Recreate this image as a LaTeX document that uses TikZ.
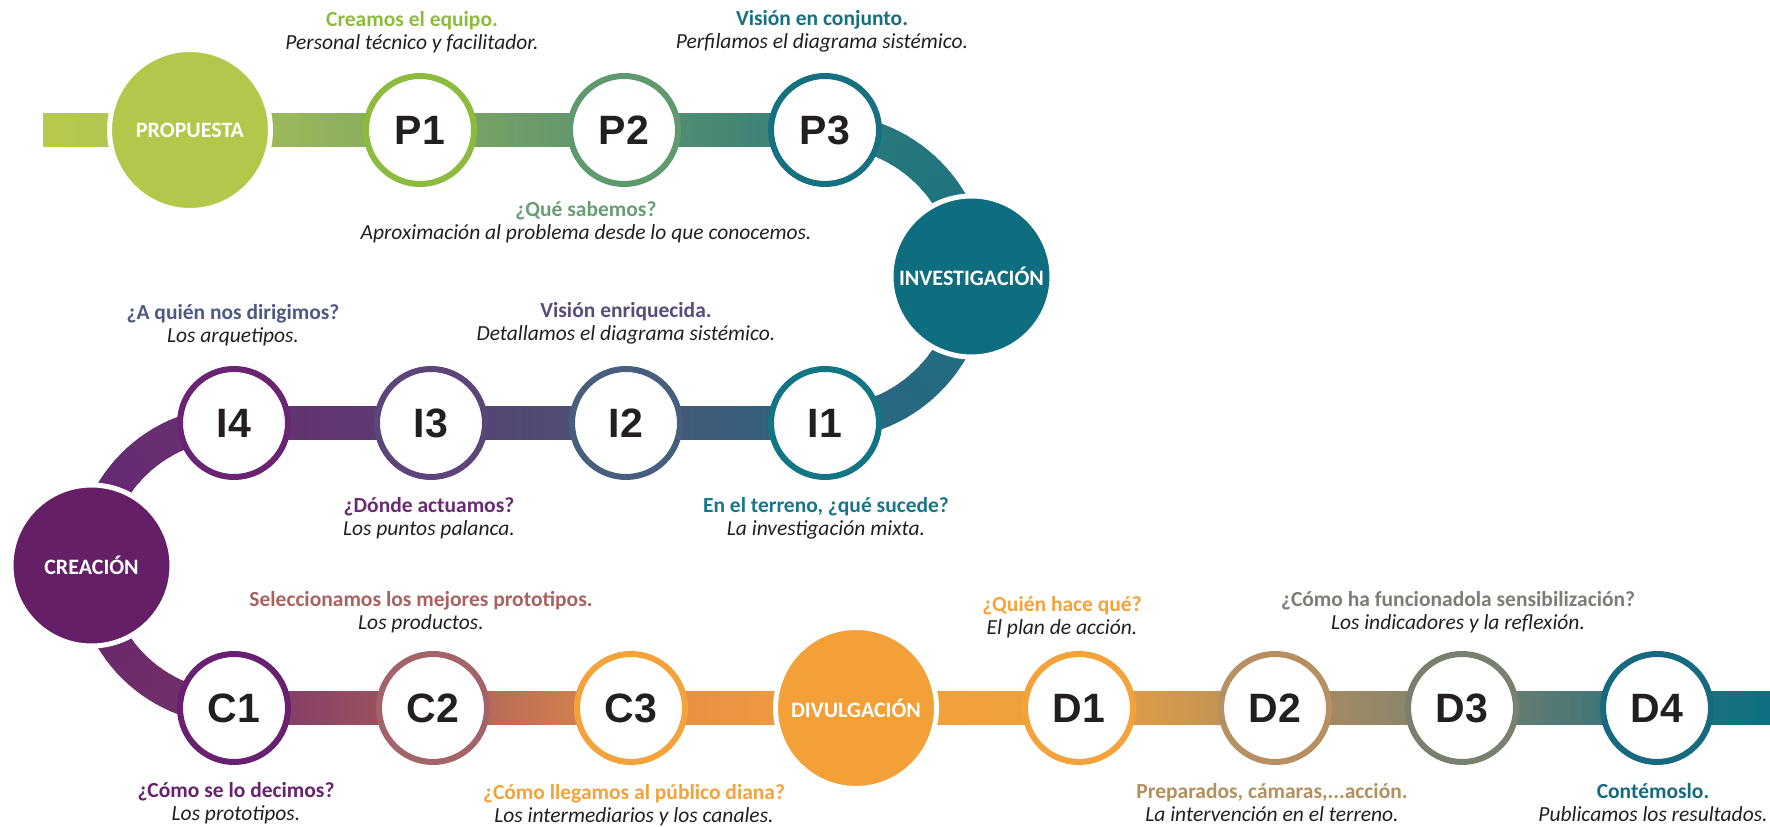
\documentclass[tikz,border=0pt]{standalone}
\usepackage{fontspec}
\setmainfont{Carlito}
\newfontfamily\stepfamily{Liberation Sans}
\usetikzlibrary{backgrounds}

% fills and rings
\definecolor{ink}{HTML}{231F20}
\definecolor{fPRO}{HTML}{B3C84A}
\definecolor{fINV}{HTML}{0E6E80}
\definecolor{fCRE}{HTML}{651F66}
\definecolor{fDIV}{HTML}{F4A038}
\definecolor{rP1}{HTML}{8DBB3E}
\definecolor{rP2}{HTML}{5F9A6F}
\definecolor{rP3}{HTML}{15707F}
\definecolor{rI1}{HTML}{117583}
\definecolor{rI2}{HTML}{475F7D}
\definecolor{rI3}{HTML}{5C4679}
\definecolor{rI4}{HTML}{6A2472}
\definecolor{rC1}{HTML}{6A2070}
\definecolor{rC2}{HTML}{A26468}
\definecolor{rC3}{HTML}{F4A33B}
\definecolor{rD1}{HTML}{F4A23A}
\definecolor{rD2}{HTML}{B69060}
\definecolor{rD3}{HTML}{78816F}
\definecolor{rD4}{HTML}{17697F}
% band stops
\definecolor{sbandL}{HTML}{B8C94C}
\definecolor{sPRO}{HTML}{ADC254}
\definecolor{sP1}{HTML}{7FA862}
\definecolor{sP2}{HTML}{5A9270}
\definecolor{sP3}{HTML}{367C79}
\definecolor{sI1}{HTML}{2E6680}
\definecolor{sI2}{HTML}{4A5577}
\definecolor{sI3}{HTML}{583F73}
\definecolor{sI4}{HTML}{66306F}
\definecolor{sC1}{HTML}{7A3468}
\definecolor{sC2}{HTML}{A65D5E}
\definecolor{sC3}{HTML}{E28C46}
\definecolor{sDIV}{HTML}{F4A23A}
\definecolor{sD1}{HTML}{EDA040}
\definecolor{sD2}{HTML}{B48E5C}
\definecolor{sD3}{HTML}{7A8270}
\definecolor{sD4}{HTML}{2A6F7B}
\definecolor{sbandR}{HTML}{0E7080}
\definecolor{aPa}{HTML}{2E7B7B}
\definecolor{aPb}{HTML}{177080}
\definecolor{aIa}{HTML}{1C6E80}
\definecolor{aIb}{HTML}{2C6680}
\definecolor{aCa}{HTML}{663372}
\definecolor{aCb}{HTML}{662470}
\definecolor{aDa}{HTML}{65246A}
\definecolor{aDb}{HTML}{74326A}
% headings
\definecolor{hP1}{HTML}{8DBB3E}
\definecolor{hP2}{HTML}{6A9D73}
\definecolor{hP3}{HTML}{17707F}
\definecolor{hI1}{HTML}{17768A}
\definecolor{hI2}{HTML}{574C7C}
\definecolor{hI3}{HTML}{6A2A72}
\definecolor{hI4}{HTML}{4C5B82}
\definecolor{hC1}{HTML}{6A2070}
\definecolor{hC2}{HTML}{A8625F}
\definecolor{hC3}{HTML}{F4A33B}
\definecolor{hD1}{HTML}{F4A23A}
\definecolor{hD2}{HTML}{B38F5E}
\definecolor{hD3}{HTML}{7A7E74}
\definecolor{hD4}{HTML}{17697F}

\begin{document}
\begin{tikzpicture}
[x=1pt,y=1pt,
  phaseNode/.style={circle,fill=#1,draw=white,line width=5pt,minimum size=161pt,
    inner sep=0pt,text=white,font=\fontsize{22}{24}\selectfont\bfseries},
  stepNode/.style={circle,fill=white,draw=#1,line width=6pt,minimum size=108pt,
    inner sep=0pt,text=ink,font=\stepfamily\fontsize{41}{41}\selectfont\bfseries},
  captionNode/.style={align=center,text=ink,inner sep=0pt,
    font=\fontsize{21.5}{23}\selectfont},
  bandLine/.style={line width=33pt}]
\useasboundingbox (0,0) rectangle (1770,827);

% phases and steps
\node[phaseNode=fPRO] (PRO) at (190,697) {PROPUESTA};
\node[stepNode=rP1] (P1) at (420,697) {P1};
\node[stepNode=rP2] (P2) at (624,697) {P2};
\node[stepNode=rP3] (P3) at (825,697) {P3};
\node[phaseNode=fINV] (INV) at (971.5,550.5) {INVESTIGACIÓN};
\node[stepNode=rI1] (I1) at (825,404) {I1};
\node[stepNode=rI2] (I2) at (626,404) {I2};
\node[stepNode=rI3] (I3) at (431,404) {I3};
\node[stepNode=rI4] (I4) at (234,404) {I4};
\node[phaseNode=fCRE] (CRE) at (91.5,261.5) {CREACIÓN};
\node[stepNode=rC1] (C1) at (234,119) {C1};
\node[stepNode=rC2] (C2) at (433,119) {C2};
\node[stepNode=rC3] (C3) at (631,119) {C3};
\node[phaseNode=fDIV] (DIV) at (856,119) {DIVULGACIÓN};
\node[stepNode=rD1] (D1) at (1079,119) {D1};
\node[stepNode=rD2] (D2) at (1275,119) {D2};
\node[stepNode=rD3] (D3) at (1462,119) {D3};
\node[stepNode=rD4] (D4) at (1657,119) {D4};
\coordinate (bandL) at (43,697);
\coordinate (bandR) at (1770,119);
\coordinate (rc) at (825,550.5);
\coordinate (lc) at (234,261.5);

% the band
\begin{pgfonlayer}{background}
\foreach \a/\b in {bandL/PRO, PRO/P1, P1/P2, P2/P3, I4/I3, I3/I2, I2/I1,
  C1/C2, C2/C3, C3/DIV, DIV/D1, D1/D2, D2/D3, D3/D4, D4/bandR}
{
  \shade[left color=s\a,right color=s\b]
    ([yshift=-16.5pt]\a.center) rectangle ([yshift=16.5pt]\b.center);
}
\foreach \cen/\r/\st/\dir/\ca/\cb in {rc/146.5/90/-1/aPa/aPb, rc/146.5/0/-1/aIa/aIb,
  lc/142.5/90/1/aCa/aCb, lc/142.5/180/1/aDa/aDb}
{
  \foreach \k in {0,...,14}
  {
    \pgfmathtruncatemacro\mixP{100-100*\k/14}
    \pgfmathsetmacro\angA{\st+\dir*6*\k}
    \pgfmathsetmacro\angB{\st+\dir*(6*\k+6.8)}
    \draw[bandLine,draw=\ca!\mixP!\cb]
      ([shift={(\angA:\r)}]\cen) arc[start angle=\angA,end angle=\angB,radius=\r];
  }
}
\end{pgfonlayer}

% captions
\node[captionNode] (tP1) at (412,795)
  {\textcolor{hP1}{\bfseries Creamos el equipo.}\\\textit{Personal técnico y facilitador.}};
\node[captionNode] (tP3) at (822,796)
  {\textcolor{hP3}{\bfseries Visión en conjunto.}\\\textit{Perfilamos el diagrama sistémico.}};
\node[captionNode] (tP2) at (586,605)
  {\textcolor{hP2}{\bfseries ¿Qué sabemos?}\\\textit{Aproximación al problema desde lo que conocemos.}};
\node[captionNode] (tI4) at (233,502)
  {\textcolor{hI4}{\bfseries ¿A quién nos dirigimos?}\\\textit{Los arquetipos.}};
\node[captionNode] (tI2) at (626,504)
  {\textcolor{hI2}{\bfseries Visión enriquecida.}\\\textit{Detallamos el diagrama sistémico.}};
\node[captionNode] (tI3) at (429,309)
  {\textcolor{hI3}{\bfseries ¿Dónde actuamos?}\\\textit{Los puntos palanca.}};
\node[captionNode] (tI1) at (826,309)
  {\textcolor{hI1}{\bfseries En el terreno, ¿qué sucede?}\\\textit{La investigación mixta.}};
\node[captionNode] (tC2) at (421,215)
  {\textcolor{hC2}{\bfseries Seleccionamos los mejores prototipos.}\\\textit{Los productos.}};
\node[captionNode] (tC1) at (236,24)
  {\textcolor{hC1}{\bfseries ¿Cómo se lo decimos?}\\\textit{Los prototipos.}};
\node[captionNode] (tC3) at (634,22)
  {\textcolor{hC3}{\bfseries ¿Cómo llegamos al público diana?}\\\textit{Los intermediarios y los canales.}};
\node[captionNode] (tD1) at (1062,210)
  {\textcolor{hD1}{\bfseries ¿Quién hace qué?}\\\textit{El plan de acción.}};
\node[captionNode] (tD3) at (1458,215)
  {\textcolor{hD3}{\bfseries ¿Cómo ha funcionadola sensibilización?}\\\textit{Los indicadores y la reflexión.}};
\node[captionNode] (tD2) at (1272,24)
  {\textcolor{hD2}{\bfseries Preparados, cámaras,...acción.}\\\textit{La intervención en el terreno.}};
\node[captionNode] (tD4) at (1653,24)
  {\textcolor{hD4}{\bfseries Contémoslo.}\\\textit{Publicamos los resultados.}};
\end{tikzpicture}
\end{document}
